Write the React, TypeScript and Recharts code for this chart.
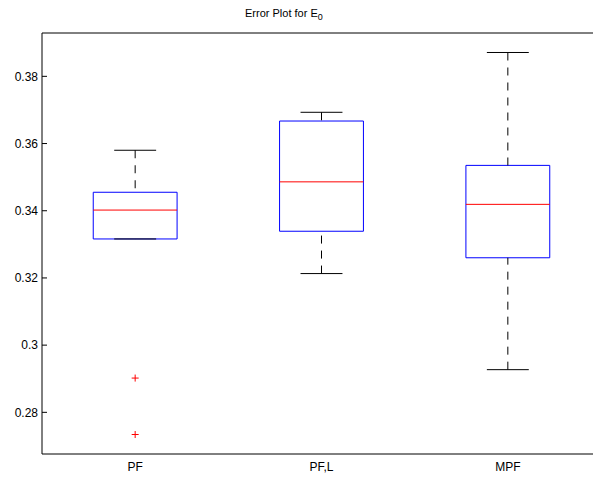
import React from 'react';
import { ComposedChart, XAxis, YAxis, ReferenceArea, ReferenceLine, Scatter, Line } from 'recharts';

// box statistics per group
const categories = ['PF', 'PF,L', 'MPF'];
const q1 = [0.3316, 0.3339, 0.326];
const medians = [0.3402, 0.3486, 0.3419];
const q3 = [0.3455, 0.3667, 0.3535];
const whiskerLow = [0.3316, 0.3213, 0.2927];
const whiskerHigh = [0.358, 0.3693, 0.3871];
const outlierGroup = [1, 1];
const outlierValues = [0.2902, 0.2734];

const yTicks = [0.28, 0.3, 0.32, 0.34, 0.36, 0.38];
const yTickLabels = ['0.28', '0.3', '0.32', '0.34', '0.36', '0.38'];
const yDomain = [0.2676, 0.3929];

const BOX_HALF = 0.225;
const CAP_HALF = 0.1125;
const FONT = '"Liberation Sans", Arial, Helvetica, sans-serif';

const outliers = outlierValues.map((y, i) => ({ x: outlierGroup[i], y }));
// one broken line for all medians (null breaks between boxes)
const medianPath = medians.flatMap((m, i) => [
  { x: i + 1 - BOX_HALF, m },
  { x: i + 1 + BOX_HALF, m },
  { x: i + 1.5, m: null },
]);

const YTick = (props: any) => {
  const { x, y, index } = props;
  return (
    <g>
      <line x1={x + 4} x2={x + 9} y1={y} y2={y} stroke="#000" />
      <text x={x} y={y} dy="0.355em" textAnchor="end" fontSize={12} fill="#000" fontFamily={FONT}>
        {yTickLabels[index]}
      </text>
    </g>
  );
};

const Plus = (props: any) => {
  const { cx, cy } = props;
  return (
    <g stroke="#ff0000" strokeWidth={1}>
      <line x1={cx - 3.5} x2={cx + 3.5} y1={cy} y2={cy} />
      <line x1={cx} x2={cx} y1={cy - 3.5} y2={cy + 3.5} />
    </g>
  );
};

const App: React.FC = () => {
  return (
    <div style={{ position: 'fixed', left: 0, top: 0, width: 593, height: 481, overflow: 'hidden', background: '#fff' }}>
      <div style={{ position: 'absolute', left: 245, top: 7, fontSize: 11, fontFamily: FONT, color: '#000', whiteSpace: 'nowrap' }}>
        Error Plot for E<sub style={{ fontSize: 9, verticalAlign: '-3px' }}>0</sub>
      </div>
      <ComposedChart width={612} height={481} margin={{ top: 33, right: 11, bottom: 0, left: 0 }} style={{ fontFamily: FONT }}>
        <XAxis
          type="number"
          dataKey="x"
          domain={[0.5, 3.5]}
          ticks={[1, 2, 3]}
          tickFormatter={(v: number) => categories[v - 1]}
          tickLine={false}
          tickSize={0}
          tickMargin={8}
          axisLine={{ stroke: '#000' }}
          tick={{ fill: '#000', fontSize: 12 }}
          height={27}
          allowDataOverflow
        />
        <YAxis
          type="number"
          domain={yDomain}
          ticks={yTicks}
          tickLine={false}
          tickSize={0}
          tickMargin={4}
          axisLine={{ stroke: '#000' }}
          tick={<YTick />}
          width={42}
          allowDataOverflow
        />
        <ReferenceLine y={yDomain[1]} stroke="#000" />
        {categories.map((c, i) => (
          <ReferenceLine
            key={'wu' + c}
            segment={[{ x: i + 1, y: whiskerHigh[i] }, { x: i + 1, y: q3[i] }]}
            stroke="#000"
            strokeDasharray="8 7"
          />
        ))}
        {categories.map((c, i) => (
          <ReferenceLine
            key={'wl' + c}
            segment={[{ x: i + 1, y: whiskerLow[i] }, { x: i + 1, y: q1[i] }]}
            stroke="#000"
            strokeDasharray="8 7"
          />
        ))}
        {categories.map((c, i) => (
          <ReferenceLine
            key={'cu' + c}
            segment={[{ x: i + 1 - CAP_HALF, y: whiskerHigh[i] }, { x: i + 1 + CAP_HALF, y: whiskerHigh[i] }]}
            stroke="#000"
          />
        ))}
        {categories.map((c, i) => (
          <ReferenceLine
            key={'cl' + c}
            segment={[{ x: i + 1 - CAP_HALF, y: whiskerLow[i] }, { x: i + 1 + CAP_HALF, y: whiskerLow[i] }]}
            stroke="#000"
          />
        ))}
        {categories.map((c, i) => (
          <ReferenceArea
            key={'box' + c}
            x1={i + 1 - BOX_HALF}
            x2={i + 1 + BOX_HALF}
            y1={q1[i]}
            y2={q3[i]}
            stroke="#0000ff"
            strokeOpacity={1}
            fill="none"
            fillOpacity={0}
          />
        ))}
        <Line
          data={medianPath}
          dataKey="m"
          stroke="#ff0000"
          strokeWidth={1}
          dot={false}
          activeDot={false}
          connectNulls={false}
          isAnimationActive={false}
        />
        <Scatter data={outliers} dataKey="y" shape={<Plus />} isAnimationActive={false} />
      </ComposedChart>
    </div>
  );
};

export default App;
